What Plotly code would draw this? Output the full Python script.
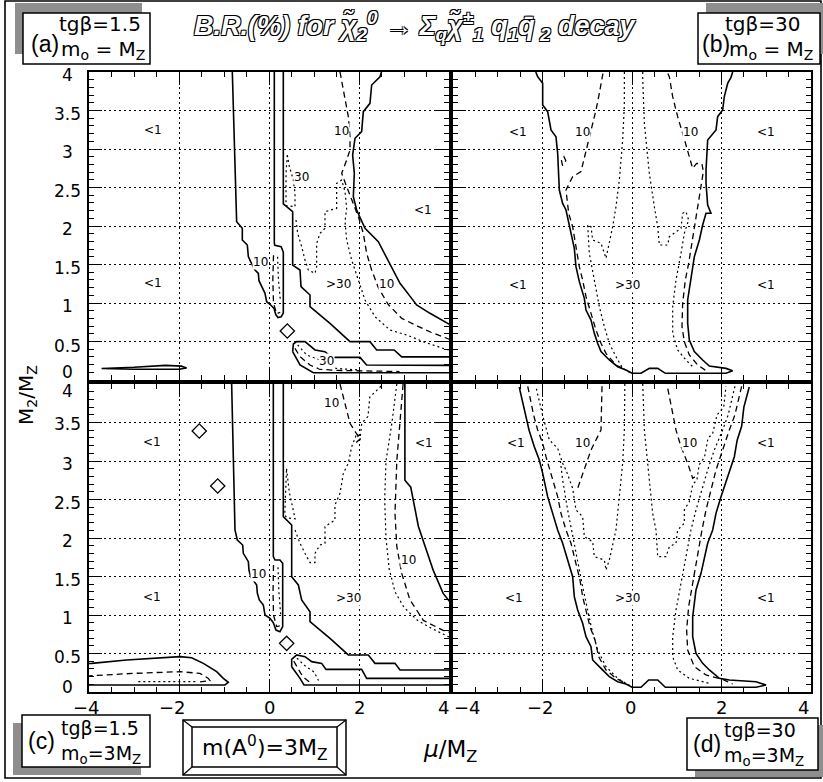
import plotly.graph_objects as go

FIG_W, FIG_H = 823, 782
X_RANGE = [-4, 4]
Y_RANGE = [0, 4]

# ---------------- panel (a): tg(beta)=1.5, m0 = MZ ----------------
A_ONE_LEFT = [(-0.815, 4.0), (-0.719, 2.056), (-0.593, 1.97), (-0.593, 1.818), (-0.482, 1.753),
              (-0.459, 1.602), (-0.408, 1.537), (-0.311, 1.429), (-0.237, 1.385), (-0.223, 1.29),
              (-0.089, 1.126), (-0.052, 1.017), (0.037, 0.974), (0.111, 0.931), (0.15, 0.85),
              (0.2, 0.81), (0.27, 0.82), (0.318, 0.87), (0.318, 1.66), (0.27, 1.73), (0.13, 1.75),
              (0.118, 1.78), (0.118, 4.0)]
A_ONE_MID = [(0.318, 4.0), (0.318, 2.286), (0.526, 2.186), (0.526, 1.493), (0.689, 1.429),
             (0.711, 1.212), (0.911, 1.104), (0.911, 0.952), (1.355, 0.736), (1.8, 0.498),
             (2.244, 0.498), (2.392, 0.39), (2.78, 0.39), (2.95, 0.30), (4.05, 0.30)]
A_ONE_BAND = [(0.526, 0.368), (0.541, 0.467), (0.615, 0.498), (0.8, 0.498), (1.022, 0.39),
              (1.244, 0.368), (1.392, 0.294), (2.022, 0.294), (2.17, 0.195), (4.05, 0.19),
              (4.05, 0.095), (0.985, 0.095), (0.689, 0.195), (0.526, 0.368)]
A_ONE_RIGHT = [(2.5, 4.0), (2.466, 3.939), (2.281, 3.831), (2.244, 3.593), (2.096, 3.485),
               (2.059, 3.225), (1.911, 3.139), (1.859, 2.922), (1.896, 2.684), (1.874, 2.381),
               (1.948, 2.208), (2.133, 1.97), (2.429, 1.796), (2.689, 1.515), (2.911, 1.255),
               (3.17, 1.06), (3.28, 0.974), (3.578, 0.866), (3.949, 0.736), (4.05, 0.71)]
A_ONE_LENS = [(-3.72, 0.15), (-3.0, 0.165), (-2.3, 0.19), (-1.95, 0.18), (-1.83, 0.155),
              (-2.0, 0.14), (-3.0, 0.14), (-3.72, 0.15)]
A_TEN_RIGHT = [(1.578, 4.0), (1.689, 3.68), (1.763, 3.42), (1.8, 3.16), (1.8, 2.987),
               (1.726, 2.857), (1.615, 2.684), (1.726, 2.511), (1.837, 2.338), (1.985, 2.121),
               (2.096, 1.905), (2.17, 1.645), (2.281, 1.429), (2.43, 1.2), (2.65, 0.98),
               (2.95, 0.80), (3.3, 0.70), (3.6, 0.62), (4.05, 0.52)]
A_TEN_SLOT = [(0.1, 1.62), (0.085, 1.3), (0.1, 1.0), (0.17, 0.86), (0.25, 0.88)]
A_TEN_BAND = [(0.578, 0.411), (0.689, 0.303), (0.911, 0.195), (1.133, 0.139), (1.503, 0.125),
              (2.9, 0.11)]
A_THIRTY = [(0.6, 2.078), (0.637, 1.905), (0.726, 1.732), (0.8, 1.558), (0.874, 1.428),
            (1.022, 1.385), (1.059, 1.472), (1.059, 1.775), (1.133, 1.905), (1.244, 1.97),
            (1.244, 2.186), (1.503, 2.229), (1.503, 2.554), (1.615, 2.597), (1.689, 2.446),
            (1.726, 2.229), (1.689, 2.056), (1.726, 1.818), (1.837, 1.558), (1.985, 1.299),
            (2.133, 1.039), (2.355, 0.822), (2.689, 0.649), (3.06, 0.584), (3.43, 0.497),
            (3.87, 0.411), (4.05, 0.38)]
A_THIRTY_LOOP = [(0.407, 2.922), (0.452, 2.771), (0.541, 2.597), (0.578, 2.424), (0.578, 2.251),
                 (0.378, 2.264), (0.378, 2.684), (0.407, 2.922)]
A_THIRTY_SLOT = [(0.19, 1.6), (0.21, 1.3), (0.25, 1.05)]
A_THIRTY_BAND = [(0.637, 0.455), (0.837, 0.325), (1.133, 0.26), (1.28, 0.2), (1.5, 0.15),
                 (2.0, 0.13)]
A_ISLANDS = [(0.407, 0.636)]
A_LABELS = [(-2.58, 3.25, "<1"), (-2.58, 1.26, "<1"), (1.616, 3.24, "10"), (0.727, 2.63, "30"),
            (-0.2, 1.537, "10"), (1.54, 1.243, ">30"), (2.616, 1.243, "10"), (1.28, 0.247, "30"),
            (3.42, 2.21, "<1")]

# ---------------- panel (b): tg(beta)=30, m0 = MZ ----------------
B_ONE = [(-2.15, 4.0), (-2.108, 3.939), (-1.996, 3.853), (-1.996, 3.571), (-1.885, 3.485),
         (-1.81, 3.247), (-1.699, 3.16), (-1.661, 2.944), (-1.624, 2.467), (-1.55, 2.294),
         (-1.475, 2.208), (-1.401, 1.991), (-1.289, 1.71), (-1.252, 1.472), (-1.177, 1.277),
         (-1.065, 1.061), (-1.028, 0.909), (-0.916, 0.779), (-0.842, 0.606), (-0.767, 0.476),
         (-0.693, 0.368), (-0.507, 0.26), (-0.32, 0.173), (-0.134, 0.13), (0.0, 0.087),
         (0.201, 0.087), (0.387, 0.151), (0.574, 0.151), (0.745, 0.087), (2.1, 0.087),
         (2.249, 0.121), (2.1, 0.151), (1.728, 0.182), (1.579, 0.26), (1.393, 0.368),
         (1.281, 0.519), (1.244, 0.736), (1.244, 1.039), (1.318, 1.299), (1.393, 1.602),
         (1.505, 1.818), (1.579, 2.013), (1.654, 2.165), (1.765, 2.165), (1.691, 2.273),
         (1.654, 2.554), (1.654, 2.727), (1.691, 3.117), (1.877, 3.247), (1.914, 3.42),
         (2.026, 3.506), (2.063, 3.68), (2.138, 3.853), (2.212, 3.931), (2.25, 4.0)]
B_TEN_LEFT = [(-0.65, 3.98), (-0.671, 3.896), (-0.73, 3.723), (-0.805, 3.506), (-0.916, 3.247),
              (-1.028, 2.987), (-1.14, 2.706), (-1.326, 2.641), (-1.475, 2.467), (-1.415, 2.165),
              (-1.326, 1.991), (-1.252, 1.732), (-1.177, 1.472), (-1.103, 1.299), (-1.028, 1.082),
              (-0.916, 0.866), (-0.805, 0.649), (-0.693, 0.476), (-0.581, 0.346), (-0.358, 0.195),
              (-0.134, 0.13)]
B_TEN_RIGHT = [(0.8, 3.98), (0.834, 3.939), (0.909, 3.68), (1.02, 3.42), (1.132, 3.203),
               (1.244, 2.987), (1.355, 2.749), (1.445, 2.814), (1.564, 2.805), (1.594, 2.706),
               (1.542, 2.511), (1.49, 2.294), (1.415, 2.056), (1.341, 1.775), (1.266, 1.515),
               (1.192, 1.299), (1.132, 0.996), (1.117, 0.693), (1.169, 0.498), (1.281, 0.325),
               (1.467, 0.195), (1.654, 0.121)]
B_TEN_HOOK = [(-1.55, 2.78), (-1.58, 2.86), (-1.52, 2.9), (-1.48, 2.85), (-1.52, 2.79)]
B_THIRTY_LEFT = [(-0.17, 4.0), (-0.172, 3.55), (-0.209, 3.117), (-0.283, 2.597), (-0.358, 2.251),
                 (-0.432, 1.991), (-0.581, 1.58), (-0.693, 1.775), (-0.879, 1.818),
                 (-0.916, 1.991), (-0.991, 2.013), (-0.954, 1.645), (-0.842, 1.299),
                 (-0.73, 0.952), (-0.618, 0.693), (-0.507, 0.476), (-0.358, 0.303),
                 (-0.209, 0.151), (-0.022, 0.087)]
B_THIRTY_RIGHT = [(0.24, 4.0), (0.238, 3.939), (0.276, 3.333), (0.387, 2.684), (0.499, 2.251),
                  (0.574, 1.991), (0.611, 1.753), (0.797, 1.753), (0.834, 1.861), (0.983, 1.926),
                  (1.095, 1.97), (1.132, 2.165), (1.206, 2.186), (1.266, 2.078), (1.169, 1.905),
                  (1.095, 1.645), (0.983, 1.299), (0.909, 0.952), (0.909, 0.606), (1.02, 0.39),
                  (1.206, 0.26), (1.393, 0.151)]
B_LABELS = [(-2.555, 3.225, "<1"), (-1.103, 3.225, "10"), (1.318, 3.225, "10"),
            (2.994, 3.225, "<1"), (-2.555, 1.234, "<1"), (-0.097, 1.234, ">30"),
            (2.994, 1.234, "<1")]

# ---------------- panel (c): tg(beta)=1.5, m0 = 3 MZ ----------------
C_ONE_LEFT = [(-0.83, 4.0), (-0.793, 3.186), (-0.756, 2.104), (-0.704, 1.974), (-0.585, 1.909),
              (-0.571, 1.801), (-0.459, 1.693), (-0.445, 1.584), (-0.408, 1.498), (-0.274, 1.39),
              (-0.259, 1.282), (-0.215, 1.195), (-0.126, 1.13), (-0.089, 1.0), (0.022, 0.957),
              (0.096, 0.9), (0.155, 0.805), (0.244, 0.784), (0.304, 0.849), (0.304, 1.671),
              (0.244, 1.714), (0.133, 1.714), (0.096, 1.758), (0.096, 4.0)]
C_ONE_MID = [(0.318, 4.0), (0.318, 2.277), (0.504, 2.169), (0.504, 1.498), (0.652, 1.39),
             (0.726, 1.195), (0.911, 1.043), (0.911, 0.913), (1.355, 0.697), (1.763, 0.481),
             (2.207, 0.481), (2.355, 0.372), (2.8, 0.372), (2.911, 0.286), (4.05, 0.286)]
C_ONE_BAND = [(0.504, 0.329), (0.504, 0.424), (0.615, 0.481), (0.8, 0.459), (0.948, 0.394),
              (1.17, 0.372), (1.266, 0.294), (2.059, 0.294), (2.17, 0.177), (4.05, 0.177),
              (4.05, 0.091), (0.778, 0.091), (0.689, 0.177), (0.504, 0.329)]
C_ONE_RIGHT = [(3.02, 4.0), (3.02, 2.75), (3.15, 2.66), (3.24, 2.41), (3.32, 2.15), (3.47, 1.89),
               (3.65, 1.58), (3.87, 1.28), (4.05, 1.15)]
C_ONE_LOBE = [(-4.05, 0.37), (-3.941, 0.372), (-3.163, 0.416), (-2.422, 0.446), (-1.978, 0.459),
              (-1.719, 0.446), (-1.459, 0.372), (-1.163, 0.264), (-1.015, 0.177), (-0.904, 0.126),
              (-0.978, 0.091), (-4.05, 0.091)]
C_TEN_TOP = [(1.578, 4.0), (1.7, 3.7), (1.8, 3.49), (1.95, 3.35), (2.05, 3.3), (1.92, 3.23)]
C_TEN_RIGHT = [(2.98, 4.0), (2.91, 3.49), (2.84, 3.0), (2.8, 2.32), (2.84, 1.89), (2.95, 1.54),
               (3.13, 1.2), (3.43, 0.93), (3.87, 0.8), (4.05, 0.77)]
C_TEN_SLOT = [(0.1, 1.65), (0.09, 1.3), (0.1, 1.0), (0.17, 0.85), (0.24, 0.86)]
C_TEN_LOBE = [(-4.05, 0.208), (-3.015, 0.242), (-1.978, 0.264), (-1.534, 0.242), (-1.348, 0.177),
              (-1.311, 0.147), (-1.534, 0.13)]
C_TEN_BAND = [(0.55, 0.4), (0.65, 0.3), (0.75, 0.2), (0.9, 0.13)]
C_THIRTY = [(0.578, 2.104), (0.689, 1.931), (0.8, 1.801), (0.911, 1.68), (1.022, 1.68),
            (1.022, 1.801), (1.133, 1.909), (1.244, 1.931), (1.244, 2.147), (1.466, 2.234),
            (1.466, 2.429), (1.578, 2.58), (1.652, 2.84), (1.763, 2.97), (1.837, 3.186),
            (1.948, 3.35), (2.02, 3.27), (2.06, 3.49), (2.2, 3.58), (2.24, 3.83), (2.47, 3.96),
            (2.52, 4.05)]
C_THIRTY_LOOP = [(0.39, 2.9), (0.45, 2.6), (0.58, 2.25), (0.4, 2.26), (0.35, 2.3), (0.39, 2.9)]
C_THIRTY_RIGHT = [(2.84, 4.0), (2.73, 3.49), (2.6, 3.0), (2.57, 2.5), (2.6, 2.0), (2.67, 1.6),
                  (2.8, 1.3), (3.0, 1.1), (3.3, 0.93), (3.6, 0.83), (4.05, 0.7)]
C_THIRTY_SLOT = [(0.2, 1.62), (0.22, 1.3), (0.26, 1.0)]
C_THIRTY_LOBE = [(-2.904, 0.134), (-1.6, 0.134)]
C_THIRTY_BAND = [(0.62, 0.44), (0.8, 0.34), (1.0, 0.26), (1.1, 0.15)]
C_ISLANDS = [(0.392, 0.632), (-1.55, 3.39), (-1.14, 2.675)]
C_LABELS = [(-2.61, 3.25, "<1"), (-2.61, 1.24, "<1"), (-0.237, 1.53, "10"), (1.762, 1.217, ">30"),
            (1.39, 3.75, "10"), (3.45, 3.23, "<1"), (3.11, 1.71, "10")]

# ---------------- panel (d): tg(beta)=30, m0 = 3 MZ ----------------
D_ONE = [(-2.52, 3.96), (-2.42, 3.7), (-2.3, 3.4), (-2.183, 3.186), (-2.071, 3.013),
         (-1.996, 2.84), (-1.885, 2.537), (-1.773, 2.32), (-1.661, 2.104), (-1.55, 1.931),
         (-1.438, 1.714), (-1.326, 1.498), (-1.289, 1.238), (-1.214, 1.065), (-1.103, 0.892),
         (-1.028, 0.719), (-0.916, 0.589), (-0.879, 0.416), (-0.693, 0.307), (-0.507, 0.199),
         (-0.32, 0.134), (-0.134, 0.104), (0.0, 0.061), (0.201, 0.061), (0.372, 0.156),
         (0.574, 0.156), (0.745, 0.061), (2.771, 0.061), (2.994, 0.091), (2.771, 0.134),
         (2.175, 0.156), (1.952, 0.177), (1.728, 0.286), (1.579, 0.372), (1.43, 0.502),
         (1.356, 0.719), (1.356, 0.978), (1.43, 1.325), (1.542, 1.541), (1.616, 1.758),
         (1.691, 1.931), (1.803, 2.104), (1.877, 2.32), (1.989, 2.537), (2.138, 2.797),
         (2.287, 3.056), (2.35, 3.27), (2.45, 3.45), (2.5, 3.7), (2.62, 3.96)]
D_TEN_LEFT = [(-2.33, 3.97), (-2.2, 3.6), (-2.108, 3.403), (-1.996, 3.229), (-1.922, 3.056),
              (-1.773, 2.753), (-1.661, 2.537), (-1.587, 2.32), (-1.475, 2.104), (-1.363, 1.931),
              (-1.252, 1.671), (-1.162, 1.454), (-1.103, 1.238), (-1.013, 1.022), (-0.939, 0.849),
              (-0.827, 0.675), (-0.745, 0.459), (-0.581, 0.286), (-0.358, 0.177), (-0.134, 0.113)]
D_TEN_UPLEFT = [(-0.67, 3.97), (-0.693, 3.403), (-0.916, 3.143), (-1.065, 2.883), (-1.214, 2.645)]
D_TEN_UPRIGHT = [(0.8, 3.94), (0.983, 3.403), (1.095, 3.186), (1.244, 2.97), (1.356, 2.775),
                 (1.42, 2.8)]
D_TEN_RIGHT = [(2.45, 3.97), (2.3, 3.6), (2.175, 3.403), (2.026, 3.143), (1.877, 2.883),
               (1.765, 2.623), (1.654, 2.364), (1.564, 2.104), (1.467, 1.758), (1.356, 1.411),
               (1.266, 1.108), (1.221, 0.805), (1.244, 0.545), (1.393, 0.329), (1.654, 0.221),
               (2.026, 0.165), (2.249, 0.104)]
D_THIRTY_LEFT = [(-0.16, 4.0), (-0.171, 3.403), (-0.209, 2.97), (-0.283, 2.537), (-0.358, 2.104),
                 (-0.507, 1.714), (-0.581, 1.584), (-0.618, 1.714), (-0.842, 1.758),
                 (-0.879, 1.952), (-1.065, 2.017), (-1.103, 2.277), (-1.252, 2.364),
                 (-1.326, 2.645), (-1.475, 2.883), (-1.55, 2.97), (-1.661, 3.165),
                 (-1.848, 3.273), (-2.0, 3.6), (-2.15, 3.97)]
D_THIRTY_INNER = [(-1.6, 3.0), (-1.55, 2.753), (-1.438, 2.364), (-1.326, 2.017), (-1.214, 1.671),
                  (-1.103, 1.368), (-0.991, 1.065), (-0.894, 0.805), (-0.767, 0.545),
                  (-0.581, 0.329), (-0.32, 0.177), (0.0, 0.069)]
D_THIRTY_CENTER = [(0.24, 4.0), (0.276, 3.403), (0.313, 3.186), (0.387, 2.753), (0.462, 2.32),
                   (0.536, 2.104), (0.574, 1.758), (0.76, 1.758), (0.834, 1.887), (0.983, 1.931),
                   (1.02, 2.104), (1.169, 2.19), (1.169, 2.364), (1.281, 2.472), (1.36, 2.7),
                   (1.45, 2.75), (1.5, 2.95), (1.62, 3.05), (1.7, 3.3), (1.8, 3.35), (1.9, 3.6),
                   (2.05, 3.7), (2.1, 3.97)]
D_THIRTY_RIGHT = [(2.3, 3.97), (2.15, 3.6), (2.026, 3.403), (1.84, 3.143), (1.691, 2.883),
                  (1.579, 2.667), (1.43, 2.364), (1.318, 2.104), (1.206, 1.758), (1.095, 1.411),
                  (0.983, 1.065), (0.909, 0.719), (0.909, 0.459), (1.02, 0.286), (1.281, 0.177),
                  (1.728, 0.113)]
D_LABELS = [(-2.59, 3.23, "<1"), (-1.103, 3.23, "10"), (1.28, 3.23, "10"), (2.994, 3.23, "<1"),
            (-2.63, 1.217, "<1"), (-0.097, 1.217, ">30"), (2.994, 1.217, "<1")]

# tick labels along the bottom edge (value, horizontal nudge in px)
X_TICKS_LEFT = [(-4, -3), (-2, -7), (0, 0), (2, 0), (4, -6)]
X_TICKS_RIGHT = [(-4, 14), (-2, -2), (0, -2), (2, 0), (4, -8)]
# tick labels on the left edge (value, vertical nudge in px, positive = downwards)
Y_TICKS_TOP = [(0, -8), (0.5, 4), (1, 3), (1.5, 3), (2, 3), (2.5, 3), (3, 3), (3.5, 3), (4, 3)]
Y_TICKS_BOTTOM = [(0, -5), (0.5, 3), (1, 3), (1.5, 3), (2, 3), (2.5, 3), (3, 3), (3.5, 1), (4, 7)]

SOLID = dict(color="black", width=1.6)
DASHED = dict(color="black", width=1.3, dash="6px,4px")
DOTTED = dict(color="black", width=1.2, dash="2px,3px")

PANELS = [
    dict(ax=("x", "y"), px=(89, 449, 72, 380), yticks=Y_TICKS_TOP,
         lines=[(A_ONE_LEFT, SOLID), (A_ONE_MID, SOLID), (A_ONE_BAND, SOLID), (A_ONE_RIGHT, SOLID),
                (A_ONE_LENS, SOLID), (A_TEN_RIGHT, DASHED), (A_TEN_SLOT, DASHED),
                (A_TEN_BAND, DASHED), (A_THIRTY, DOTTED), (A_THIRTY_LOOP, DOTTED),
                (A_THIRTY_SLOT, DOTTED), (A_THIRTY_BAND, DOTTED)],
         islands=A_ISLANDS, labels=A_LABELS),
    dict(ax=("x2", "y2"), px=(453, 811, 72, 380),
         lines=[(B_ONE, SOLID), (B_TEN_LEFT, DASHED), (B_TEN_RIGHT, DASHED), (B_TEN_HOOK, DASHED),
                (B_THIRTY_LEFT, DOTTED), (B_THIRTY_RIGHT, DOTTED)],
         islands=[], labels=B_LABELS),
    dict(ax=("x3", "y3"), px=(89, 449, 384, 692), yticks=Y_TICKS_BOTTOM,
         lines=[(C_ONE_LEFT, SOLID), (C_ONE_MID, SOLID), (C_ONE_BAND, SOLID), (C_ONE_RIGHT, SOLID),
                (C_ONE_LOBE, SOLID), (C_TEN_TOP, DASHED), (C_TEN_RIGHT, DASHED),
                (C_TEN_SLOT, DASHED), (C_TEN_LOBE, DASHED), (C_TEN_BAND, DASHED),
                (C_THIRTY, DOTTED), (C_THIRTY_LOOP, DOTTED), (C_THIRTY_RIGHT, DOTTED),
                (C_THIRTY_SLOT, DOTTED), (C_THIRTY_LOBE, DOTTED), (C_THIRTY_BAND, DOTTED)],
         islands=C_ISLANDS, labels=C_LABELS, xticks=X_TICKS_LEFT),
    dict(ax=("x4", "y4"), px=(453, 811, 384, 692),
         lines=[(D_ONE, SOLID), (D_TEN_LEFT, DASHED), (D_TEN_UPLEFT, DASHED),
                (D_TEN_UPRIGHT, DASHED), (D_TEN_RIGHT, DASHED), (D_THIRTY_LEFT, DOTTED),
                (D_THIRTY_INNER, DOTTED), (D_THIRTY_CENTER, DOTTED), (D_THIRTY_RIGHT, DOTTED)],
         islands=[], labels=D_LABELS, xticks=X_TICKS_RIGHT),
]

FONT = "DejaVu Sans"


def pxx(p):
    return p / FIG_W


def pxy(p):
    return 1 - p / FIG_H


fig = go.Figure()
annotations = []
layout_axes = {}


def note(x, y, text, size, xref="paper", yref="paper", xanchor="center", family=FONT, **kw):
    font = kw.pop("font", dict(family=family, size=size, color="black"))
    annotations.append(dict(x=x, y=y, xref=xref, yref=yref, text=text, showarrow=False,
                            xanchor=xanchor, yanchor="middle", font=font, **kw))


def fmt(v):
    return ("%g" % v).replace("-", "\u2212")


for panel in PANELS:
    xa, ya = panel["ax"]
    for pts, style in panel["lines"]:
        xs, ys = zip(*pts)
        fig.add_trace(go.Scatter(x=xs, y=ys, mode="lines", line=style, xaxis=xa, yaxis=ya,
                                 showlegend=False, hoverinfo="skip"))
    if panel["islands"]:
        xs, ys = zip(*panel["islands"])
        fig.add_trace(go.Scatter(x=xs, y=ys, mode="markers", xaxis=xa, yaxis=ya,
                                 marker=dict(symbol="diamond-open", size=11, color="black",
                                             line=dict(width=1.3)),
                                 showlegend=False, hoverinfo="skip"))
    for lx, ly, txt in panel["labels"]:
        note(lx, ly, txt, 12, xref=xa, yref=ya, bgcolor="white", borderpad=0)
    for val, shift in panel.get("xticks", []):
        note(val, pxy(707), fmt(val), 18, xref=xa, xshift=shift)
    for val, shift in panel.get("yticks", []):
        note(pxx(67), val, fmt(val), 17, yref=ya, yshift=-shift)

    left, right, top, bottom = panel["px"]
    common = dict(showline=True, linecolor="black", linewidth=1.6, mirror="ticks",
                  ticks="inside", tickcolor="black", tickwidth=1.3, ticklen=13,
                  showgrid=True, gridcolor="black", gridwidth=1, griddash="2px,3px",
                  zeroline=False, fixedrange=True, showticklabels=False)
    xkey = "xaxis" if xa == "x" else "xaxis" + xa[1:]
    ykey = "yaxis" if ya == "y" else "yaxis" + ya[1:]
    layout_axes[xkey] = dict(common, range=X_RANGE, dtick=2, tick0=0, anchor=ya,
                             domain=[pxx(left), pxx(right)],
                             minor=dict(dtick=0.5, ticks="inside", ticklen=5, tickwidth=1,
                                        tickcolor="black", showgrid=False))
    layout_axes[ykey] = dict(common, range=Y_RANGE, dtick=0.5, tick0=0, anchor=xa,
                             domain=[pxy(bottom), pxy(top)],
                             minor=dict(dtick=0.1, ticks="inside", ticklen=5, tickwidth=1,
                                        tickcolor="black", showgrid=False))

# ---------------- frame, boxes and captions ----------------
shapes = []


def rect(x0, y0, x1, y1, fill=None, width=1.5):
    shapes.append(dict(type="rect", xref="paper", yref="paper", x0=pxx(x0), x1=pxx(x1),
                       y0=pxy(y1), y1=pxy(y0), line=dict(color="black", width=width),
                       fillcolor=fill if fill else "rgba(0,0,0,0)", layer="above"))


def seg(x0, y0, x1, y1, width=1.2):
    shapes.append(dict(type="line", xref="paper", yref="paper", x0=pxx(x0), x1=pxx(x1),
                       y0=pxy(y0), y1=pxy(y1), line=dict(color="black", width=width),
                       layer="above"))


SHADE = "#8e8e8e"
# outer frame
rect(5, 1, 821, 778, width=1.6)
# panel captions with drop shadows: box, shadow offset, tag, (x, y), line1, (x, y), line2, (x, y), size
BOXES = [
    ((23, 13, 150, 64), (-8, -10), "(a)", (29, 44), "tg\u03b2=1.5", (57, 24),
     "m<sub>o</sub> = M<sub>Z</sub>", (59, 50), 20),
    ((698, 13, 820, 64), (8, -10), "(b)", (700, 44), "tg\u03b2=30", (723, 24),
     "m<sub>o</sub> = M<sub>Z</sub>", (727, 50), 20),
    ((22, 715, 150, 767), (-9, 8), "(c)", (26, 741), "tg\u03b2=1.5", (59, 728),
     "m<sub>o</sub>=3M<sub>Z</sub>", (59, 754), 19),
    ((687, 718, 818, 770), (8, 7), "(d)", (691, 744), "tg\u03b2=30", (722, 730),
     "m<sub>o</sub>=3M<sub>Z</sub>", (722, 756), 19),
]
for (x0, y0, x1, y1), (dx, dy), tag, tpos, line1, l1pos, line2, l2pos, size in BOXES:
    shapes.append(dict(type="rect", xref="paper", yref="paper", x0=pxx(x0 + dx), x1=pxx(x1 + dx),
                       y0=pxy(y1 + dy), y1=pxy(y0 + dy), line=dict(width=0), fillcolor=SHADE,
                       layer="above"))
    rect(x0, y0, x1, y1, fill="white")
    note(pxx(tpos[0]), pxy(tpos[1]), tag, 23, xanchor="left", family="Liberation Sans")
    note(pxx(l1pos[0]), pxy(l1pos[1]), line1, size, xanchor="left")
    note(pxx(l2pos[0]), pxy(l2pos[1]), line2, size, xanchor="left")

# bevelled frame around the pseudoscalar mass caption
rect(183, 720, 346, 775, fill="white")
rect(192, 727, 337, 767)
seg(183, 720, 192, 727)
seg(346, 720, 337, 727)
seg(183, 775, 192, 767)
seg(346, 775, 337, 767)
note(pxx(264), pxy(748), "m(A<sup>0</sup>)=3M<sub>Z</sub>", 22)

# axis titles
note(pxx(27), pxy(395), "M<sub>2</sub>/M<sub>Z</sub>", 20, textangle=-90)
note(pxx(450), pxy(751), "<i>\u03bc</i>/M<sub>Z</sub>", 23)

# outlined title
OUTLINE = "-1px -1px 0 #000, 1px -1px 0 #000, -1px 1px 0 #000, 1px 1px 0 #000"
note(pxx(415), pxy(26),
     "B.R.(%) for \u03c7\u0303<sub>2</sub><sup>0</sup> \u2192 \u03a3<sub>q</sub>"
     "\u03c7\u0303<sup>\u00b1</sup><sub>1</sub> q<sub>1</sub>q\u0304<sub> 2</sub> decay",
     27, font=dict(family="Liberation Sans", size=27, color="white", style="italic",
                   weight="bold", shadow=OUTLINE))

fig.update_layout(width=FIG_W, height=FIG_H, margin=dict(l=0, r=0, t=0, b=0),
                  paper_bgcolor="white", plot_bgcolor="white", showlegend=False,
                  shapes=shapes, annotations=annotations, **layout_axes)

fig.write_html("out.html")
